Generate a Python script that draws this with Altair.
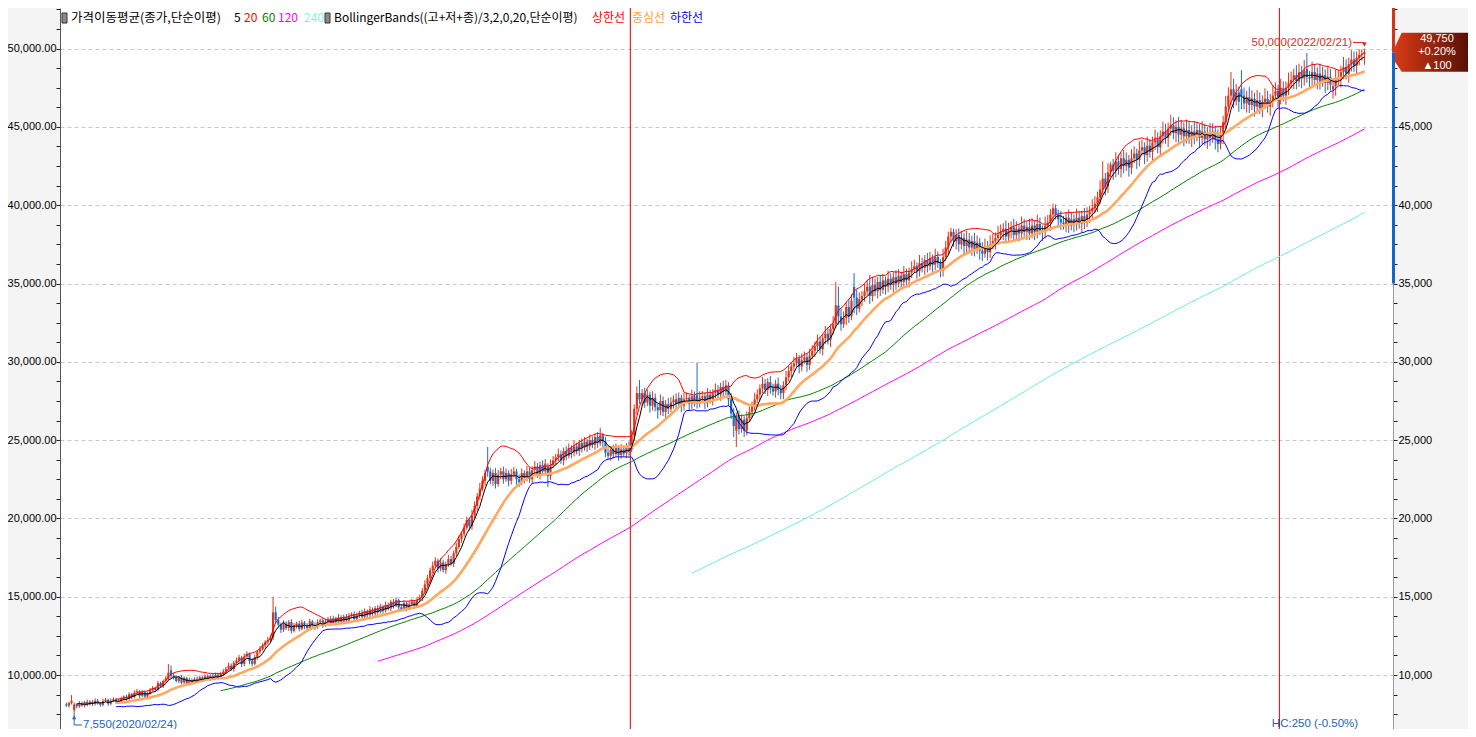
import altair as alt
import pandas as pd

# ---------------- data (prices in units of 10 won) ----------------
opens = [
812, 805, 822, 775, 812, 800, 820, 806, 828, 812,
830, 815, 836, 820, 810, 834, 842, 818, 835, 845,
832, 828, 850, 862, 848, 878, 860, 888, 896, 868,
890, 862, 884, 902, 918, 905, 948, 930, 962, 975,
1030, 995, 985, 962, 985, 952, 980, 948, 968, 955,
975, 968, 985, 970, 992, 975, 995, 978, 1002, 985,
1005, 1022, 1040, 1060, 1038, 1078, 1092, 1112, 1070, 1118,
1135, 1088, 1072, 1115, 1148, 1165, 1188, 1210, 1222, 1240,
1400, 1350, 1322, 1290, 1328, 1300, 1338, 1282, 1315, 1328,
1295, 1335, 1312, 1300, 1342, 1318, 1305, 1338, 1348, 1318,
1342, 1358, 1332, 1362, 1338, 1368, 1342, 1372, 1348, 1378,
1388, 1358, 1382, 1398, 1372, 1408, 1382, 1418, 1392, 1428,
1402, 1438, 1412, 1448, 1425, 1468, 1442, 1478, 1432, 1422,
1458, 1428, 1452, 1468, 1442, 1478, 1495, 1538, 1578, 1618,
1668, 1698, 1730, 1680, 1718, 1670, 1708, 1740, 1712, 1778,
1818, 1868, 1900, 1940, 1990, 1950, 2020, 2080, 2140, 2190,
2240, 2330, 2300, 2240, 2290, 2220, 2280, 2300, 2250, 2290,
2240, 2280, 2300, 2250, 2230, 2290, 2260, 2300, 2250, 2310,
2330, 2280, 2340, 2300, 2330, 2270, 2340, 2370, 2390, 2410,
2370, 2430, 2400, 2450, 2420, 2460, 2430, 2480, 2450, 2490,
2460, 2500, 2470, 2520, 2480, 2530, 2490, 2420, 2400, 2440,
2410, 2450, 2405, 2440, 2415, 2460, 2440, 2530, 2700, 2800,
2760, 2800, 2740, 2790, 2720, 2770, 2710, 2690, 2750, 2680,
2730, 2700, 2740, 2760, 2730, 2770, 2720, 2760, 2770, 2730,
2780, 2790, 2740, 2770, 2780, 2740, 2790, 2760, 2800, 2820,
2790, 2840, 2810, 2850, 2760, 2670, 2560, 2650, 2570, 2630,
2560, 2640, 2680, 2720, 2760, 2790, 2830, 2860, 2820, 2870,
2830, 2810, 2860, 2820, 2800, 2850, 2900, 2940, 2970, 2990,
3020, 2970, 3010, 3030, 2980, 3040, 3070, 3100, 3130, 3080,
3150, 3180, 3140, 3210, 3240, 3360, 3290, 3240, 3280, 3350,
3290, 3480, 3410, 3340, 3400, 3420, 3450, 3480, 3420, 3490,
3450, 3510, 3460, 3520, 3480, 3530, 3490, 3540, 3500, 3550,
3510, 3560, 3520, 3570, 3590, 3610, 3580, 3630, 3600, 3650,
3610, 3660, 3620, 3670, 3630, 3580, 3670, 3730, 3800, 3830,
3770, 3810, 3750, 3790, 3740, 3780, 3730, 3770, 3720, 3760,
3710, 3690, 3740, 3700, 3750, 3770, 3790, 3810, 3830, 3850,
3800, 3840, 3860, 3810, 3850, 3820, 3870, 3830, 3860, 3820,
3870, 3830, 3880, 3840, 3830, 3870, 3890, 3940, 3980, 3940,
3910, 3890, 3880, 3920, 3870, 3910, 3880, 3920, 3880, 3930,
3890, 3940, 3960, 3980, 4010, 4050, 4100, 4170, 4120, 4210,
4260, 4220, 4280, 4230, 4300, 4250, 4290, 4240, 4300, 4330,
4290, 4350, 4370, 4320, 4380, 4340, 4400, 4420, 4370, 4440,
4470, 4430, 4490, 4510, 4460, 4500, 4450, 4490, 4440, 4480,
4430, 4470, 4440, 4480, 4430, 4470, 4420, 4460, 4430, 4470,
4420, 4390, 4450, 4530, 4630, 4700, 4740, 4670, 4720, 4740,
4700, 4650, 4690, 4640, 4680, 4630, 4670, 4620, 4660, 4680,
4630, 4670, 4700, 4730, 4690, 4740, 4700, 4750, 4780, 4800,
4830, 4790, 4850, 4810, 4870, 4820, 4810, 4850, 4800, 4840,
4790, 4830, 4780, 4820, 4740, 4760, 4800, 4810, 4850, 4880,
4840, 4900, 4930, 4890, 4940, 4960, 4965,
]

highs = [
824, 829, 872, 824, 819, 835, 830, 835, 843, 840,
839, 851, 846, 829, 849, 854, 849, 850, 857, 852,
847, 862, 871, 875, 890, 885, 903, 911, 903, 905,
900, 893, 917, 930, 925, 963, 958, 971, 993, 1070,
1060, 1012, 996, 995, 999, 993, 988, 984, 979, 985,
990, 997, 993, 1007, 1003, 1004, 1009, 1015, 1010, 1021,
1038, 1052, 1080, 1074, 1090, 1112, 1128, 1122, 1138, 1151,
1144, 1107, 1130, 1160, 1185, 1204, 1222, 1244, 1258, 1500,
1437, 1370, 1334, 1350, 1343, 1351, 1356, 1332, 1341, 1346,
1352, 1345, 1330, 1359, 1352, 1336, 1355, 1361, 1366, 1359,
1371, 1376, 1379, 1372, 1389, 1382, 1385, 1390, 1395, 1401,
1406, 1399, 1411, 1416, 1425, 1418, 1439, 1432, 1441, 1446,
1455, 1448, 1469, 1462, 1481, 1486, 1495, 1488, 1450, 1475,
1468, 1473, 1485, 1478, 1499, 1513, 1555, 1605, 1640, 1685,
1725, 1752, 1743, 1745, 1736, 1725, 1767, 1760, 1795, 1845,
1890, 1917, 1967, 2012, 2005, 2056, 2109, 2162, 2226, 2269,
2312, 2456, 2324, 2312, 2321, 2309, 2322, 2331, 2319, 2307,
2316, 2329, 2317, 2281, 2319, 2307, 2336, 2324, 2332, 2366,
2354, 2362, 2371, 2379, 2352, 2376, 2399, 2412, 2446, 2434,
2452, 2461, 2479, 2467, 2496, 2484, 2502, 2511, 2519, 2507,
2536, 2524, 2542, 2551, 2579, 2547, 2521, 2444, 2462, 2471,
2479, 2467, 2476, 2464, 2482, 2491, 2564, 2728, 2844, 2884,
2826, 2836, 2824, 2810, 2812, 2798, 2733, 2792, 2778, 2756,
2769, 2774, 2786, 2799, 2804, 2790, 2802, 2804, 2790, 2822,
2811, 2995, 2812, 2814, 2803, 2832, 2821, 2826, 2862, 2851,
2866, 2879, 2884, 2870, 2799, 2704, 2676, 2689, 2664, 2653,
2682, 2714, 2746, 2802, 2824, 2856, 2902, 2891, 2896, 2909,
2861, 2886, 2899, 2851, 2876, 2942, 2974, 2996, 3032, 3056,
3043, 3054, 3066, 3053, 3084, 3106, 3128, 3174, 3161, 3178,
3230, 3220, 3240, 3292, 3510, 3480, 3340, 3322, 3382, 3402,
3432, 3567, 3462, 3442, 3452, 3502, 3522, 3554, 3542, 3532,
3542, 3555, 3562, 3545, 3582, 3565, 3572, 3585, 3592, 3575,
3612, 3595, 3602, 3642, 3652, 3635, 3682, 3665, 3682, 3695,
3702, 3685, 3722, 3705, 3655, 3722, 3772, 3832, 3855, 3850,
3846, 3852, 3837, 3821, 3838, 3822, 3806, 3823, 3807, 3791,
3763, 3787, 3771, 3808, 3817, 3826, 3868, 3877, 3886, 3903,
3887, 3896, 3913, 3897, 3881, 3928, 3912, 3896, 3913, 3917,
3901, 3938, 3922, 3871, 3928, 3937, 3976, 4010, 4005, 3971,
3963, 3932, 3956, 3973, 3957, 3941, 3978, 3962, 3966, 3983,
3987, 3996, 4038, 4057, 4086, 4158, 4280, 4206, 4268, 4275,
4296, 4338, 4322, 4336, 4353, 4337, 4321, 4358, 4377, 4361,
4408, 4417, 4401, 4438, 4422, 4438, 4484, 4466, 4478, 4534,
4521, 4528, 4577, 4561, 4541, 4564, 4544, 4528, 4547, 4531,
4511, 4534, 4534, 4518, 4537, 4521, 4501, 4524, 4524, 4508,
4484, 4504, 4571, 4697, 4754, 4850, 4807, 4774, 4758, 4863,
4751, 4731, 4754, 4734, 4718, 4737, 4721, 4701, 4747, 4731,
4711, 4767, 4784, 4768, 4807, 4791, 4791, 4847, 4854, 4871,
4894, 4904, 4888, 4927, 4972, 4858, 4917, 4901, 4881, 4904,
4884, 4868, 4887, 4871, 4801, 4867, 4864, 4891, 4947, 4931,
4941, 4990, 4981, 4981, 4995, 4995, 5000,
]

lows = [
796, 792, 812, 755, 787, 790, 797, 793, 800, 805,
802, 805, 811, 797, 800, 827, 803, 808, 828, 817,
816, 821, 837, 836, 841, 845, 850, 879, 853, 858,
853, 849, 874, 895, 890, 895, 921, 917, 952, 967,
979, 971, 952, 948, 939, 944, 932, 937, 947, 941,
956, 960, 955, 960, 966, 961, 966, 970, 970, 974,
996, 1005, 1027, 1027, 1021, 1064, 1082, 1051, 1056, 1108,
1068, 1056, 1062, 1098, 1133, 1155, 1170, 1195, 1211, 1222,
1332, 1308, 1268, 1275, 1287, 1282, 1265, 1272, 1296, 1278,
1285, 1292, 1283, 1290, 1297, 1288, 1295, 1320, 1301, 1308,
1324, 1315, 1322, 1317, 1324, 1329, 1324, 1331, 1338, 1360,
1341, 1348, 1364, 1355, 1362, 1361, 1368, 1379, 1374, 1385,
1392, 1391, 1398, 1412, 1407, 1425, 1432, 1411, 1405, 1412,
1407, 1414, 1442, 1421, 1428, 1466, 1473, 1520, 1565, 1595,
1650, 1685, 1655, 1662, 1655, 1647, 1690, 1697, 1690, 1760,
1805, 1845, 1882, 1927, 1923, 1928, 2003, 2049, 2116, 2173,
2209, 2266, 2218, 2209, 2191, 2203, 2249, 2221, 2233, 2204,
2216, 2263, 2214, 2201, 2213, 2224, 2236, 2228, 2219, 2286,
2258, 2249, 2271, 2283, 2200, 2246, 2323, 2339, 2366, 2348,
2339, 2371, 2383, 2384, 2396, 2408, 2399, 2421, 2433, 2424,
2436, 2448, 2439, 2451, 2463, 2454, 2391, 2378, 2369, 2381,
2393, 2369, 2381, 2393, 2384, 2401, 2423, 2496, 2664, 2732,
2721, 2706, 2717, 2676, 2689, 2684, 2636, 2659, 2654, 2641,
2666, 2677, 2701, 2696, 2707, 2678, 2689, 2737, 2688, 2699,
2714, 2701, 2709, 2747, 2698, 2709, 2734, 2721, 2769, 2764,
2751, 2776, 2787, 2718, 2636, 2520, 2456, 2536, 2547, 2520,
2529, 2617, 2641, 2689, 2737, 2751, 2799, 2794, 2781, 2796,
2784, 2771, 2786, 2760, 2761, 2819, 2877, 2901, 2939, 2967,
2926, 2939, 2987, 2936, 2949, 3017, 3031, 3069, 3052, 3041,
3115, 3110, 3095, 3175, 3215, 3238, 3198, 3215, 3235, 3248,
3265, 3310, 3298, 3315, 3355, 3385, 3425, 3370, 3385, 3418,
3405, 3420, 3435, 3430, 3445, 3460, 3445, 3460, 3475, 3460,
3475, 3490, 3475, 3535, 3565, 3530, 3545, 3570, 3555, 3570,
3585, 3570, 3585, 3600, 3540, 3545, 3645, 3685, 3760, 3735,
3717, 3703, 3719, 3682, 3698, 3694, 3677, 3673, 3689, 3652,
3643, 3664, 3647, 3663, 3719, 3717, 3748, 3779, 3777, 3758,
3769, 3787, 3768, 3779, 3767, 3778, 3799, 3777, 3778, 3789,
3777, 3788, 3809, 3772, 3788, 3839, 3837, 3898, 3909, 3857,
3843, 3844, 3827, 3823, 3839, 3827, 3838, 3849, 3827, 3848,
3859, 3887, 3918, 3949, 3957, 4008, 4069, 4062, 4078, 4179,
4162, 4178, 4194, 4177, 4203, 4219, 4182, 4198, 4269, 4232,
4248, 4319, 4262, 4278, 4304, 4281, 4354, 4332, 4311, 4394,
4392, 4371, 4444, 4422, 4401, 4399, 4417, 4376, 4394, 4392,
4371, 4389, 4407, 4366, 4384, 4382, 4361, 4379, 4397, 4356,
4339, 4357, 4391, 4484, 4597, 4641, 4619, 4637, 4596, 4614,
4612, 4591, 4589, 4607, 4566, 4584, 4582, 4561, 4614, 4592,
4571, 4624, 4667, 4626, 4644, 4662, 4641, 4704, 4747, 4741,
4739, 4757, 4746, 4764, 4782, 4746, 4764, 4762, 4741, 4739,
4757, 4716, 4734, 4732, 4681, 4699, 4767, 4751, 4804, 4802,
4781, 4854, 4852, 4831, 4894, 4922, 4896,
]

closes = [
805, 822, 835, 812, 800, 820, 806, 828, 812, 830,
815, 836, 820, 810, 834, 842, 818, 835, 845, 832,
828, 850, 862, 848, 878, 860, 888, 896, 868, 890,
862, 884, 902, 918, 905, 948, 930, 962, 978, 1015,
995, 985, 962, 985, 952, 980, 948, 968, 955, 975,
968, 985, 970, 992, 975, 995, 978, 1002, 985, 1005,
1022, 1040, 1060, 1038, 1078, 1092, 1112, 1070, 1118, 1135,
1088, 1072, 1115, 1148, 1165, 1188, 1210, 1222, 1240, 1400,
1350, 1322, 1290, 1328, 1300, 1338, 1282, 1315, 1328, 1295,
1335, 1312, 1300, 1342, 1318, 1305, 1338, 1348, 1318, 1342,
1358, 1332, 1362, 1338, 1368, 1342, 1372, 1348, 1378, 1388,
1358, 1382, 1398, 1372, 1408, 1382, 1418, 1392, 1428, 1402,
1438, 1412, 1448, 1425, 1468, 1442, 1478, 1432, 1422, 1458,
1428, 1452, 1468, 1442, 1478, 1495, 1538, 1578, 1618, 1668,
1698, 1730, 1680, 1718, 1670, 1708, 1740, 1712, 1778, 1818,
1868, 1900, 1940, 1990, 1950, 2020, 2080, 2140, 2190, 2240,
2290, 2300, 2240, 2290, 2220, 2280, 2300, 2250, 2290, 2240,
2280, 2300, 2250, 2230, 2290, 2260, 2300, 2250, 2310, 2330,
2280, 2340, 2300, 2350, 2270, 2340, 2370, 2390, 2410, 2370,
2430, 2400, 2450, 2420, 2460, 2430, 2480, 2450, 2490, 2460,
2500, 2470, 2520, 2480, 2530, 2490, 2420, 2400, 2440, 2410,
2450, 2405, 2440, 2415, 2460, 2430, 2530, 2700, 2800, 2760,
2800, 2740, 2790, 2720, 2770, 2710, 2690, 2750, 2680, 2730,
2700, 2740, 2760, 2730, 2770, 2720, 2760, 2770, 2730, 2780,
2740, 2740, 2770, 2780, 2740, 2790, 2760, 2800, 2820, 2790,
2840, 2810, 2850, 2760, 2670, 2590, 2650, 2570, 2630, 2560,
2640, 2680, 2720, 2760, 2790, 2830, 2860, 2820, 2870, 2830,
2810, 2860, 2820, 2800, 2850, 2900, 2940, 2970, 2990, 3020,
2970, 3010, 3030, 2980, 3040, 3070, 3100, 3130, 3080, 3150,
3180, 3140, 3210, 3240, 3360, 3290, 3240, 3280, 3350, 3290,
3390, 3410, 3340, 3400, 3420, 3450, 3480, 3420, 3490, 3450,
3510, 3460, 3520, 3480, 3530, 3490, 3540, 3500, 3550, 3510,
3560, 3520, 3570, 3590, 3610, 3580, 3630, 3600, 3650, 3610,
3660, 3620, 3670, 3630, 3580, 3670, 3730, 3800, 3830, 3770,
3810, 3750, 3790, 3740, 3780, 3730, 3770, 3720, 3760, 3710,
3690, 3740, 3700, 3750, 3770, 3790, 3810, 3830, 3850, 3800,
3840, 3860, 3810, 3850, 3820, 3870, 3830, 3860, 3820, 3870,
3830, 3880, 3840, 3830, 3870, 3890, 3940, 3980, 3940, 3910,
3890, 3880, 3920, 3870, 3910, 3880, 3920, 3880, 3930, 3890,
3940, 3960, 3980, 4010, 4050, 4100, 4170, 4120, 4210, 4260,
4220, 4280, 4230, 4300, 4250, 4290, 4240, 4300, 4330, 4290,
4350, 4370, 4320, 4380, 4340, 4400, 4420, 4370, 4440, 4470,
4430, 4490, 4510, 4460, 4500, 4450, 4490, 4440, 4480, 4430,
4470, 4440, 4480, 4430, 4470, 4420, 4460, 4430, 4470, 4420,
4390, 4450, 4530, 4630, 4700, 4740, 4670, 4720, 4660, 4700,
4650, 4690, 4640, 4680, 4630, 4670, 4620, 4660, 4680, 4630,
4670, 4700, 4730, 4690, 4740, 4700, 4750, 4780, 4800, 4830,
4790, 4850, 4810, 4860, 4820, 4810, 4850, 4800, 4840, 4790,
4830, 4780, 4820, 4770, 4760, 4800, 4810, 4850, 4880, 4840,
4900, 4930, 4890, 4940, 4960, 4965, 4975,
]

# bar index of the first trading day of each month (Mar 2020 .. Feb 2022, excluding January)
month_starts = [8, 30, 50, 69, 91, 114, 134, 155, 174, 195,
                236, 254, 276, 298, 317, 339, 361, 382, 401, 420, 442, 484]
year_starts = [216, 464]
y_ticks = list(range(7500, 52501, 1250))

last_close = 49750
change_pct = "+0.20%"
change_abs = "▲100"
range_low = 35000
low_idx, low_price, low_date = 3, 7550, "2020/02/24"
high_idx, high_price, high_date = 496, 50000, "2022/02/21"
hc_text = "HC:250 (-0.50%)"

# ---------------- frame ----------------
n = len(closes)
df = pd.DataFrame({
    "i": list(range(n)),
    "o": [v * 10 for v in opens],
    "h": [v * 10 for v in highs],
    "l": [v * 10 for v in lows],
    "c": [v * 10 for v in closes],
})
df["up"] = df["c"] >= df["o"]
df["tp"] = (df["h"] + df["l"] + df["c"]) / 3.0

W, H = 1333, 721
UP = "#D9381A"
DOWN = "#1F6CC6"
ANN_RED = "#D8301C"
ANN_BLUE = "#2163C0"
KFONT = "Noto Sans CJK KR"
NFONT = "Liberation Sans"

xs = alt.Scale(domain=[-0.5, 505.0], nice=False, zero=False)
ys = alt.Scale(domain=[6552, 52593], nice=False, zero=False)
X = alt.X("i:Q", scale=xs, axis=None)

x_axis = alt.Axis(values=[m - 0.5 for m in month_starts], grid=True, gridColor="#C8C8C8",
                  gridDash=[4, 3], gridWidth=1, labels=False, ticks=False, domain=False, title=None)
y_left = alt.Axis(orient="left", values=y_ticks, title=None,
                  labelExpr="datum.value % 5000 === 0 ? format(datum.value, ',.2f') : ''",
                  labelOverlap=False, labelFont=NFONT, labelFontSize=11, labelColor="#000",
                  labelPadding=0, tickSize=4, tickColor="#222", domainColor="#555",
                  grid=True, gridColor="#C8C8C8", gridDash=[4, 3],
                  gridOpacity={"condition": {"test": "datum.value % 5000 === 0", "value": 1}, "value": 0})
# the 50,000 label on the right is hidden behind the current-price box in the reference
y_right = alt.Axis(orient="right", values=y_ticks, title=None,
                   labelExpr="datum.value % 5000 === 0 && datum.value < 50000 ? format(datum.value, ',d') : ''",
                   labelOverlap=False, labelFont=NFONT, labelFontSize=11, labelColor="#000",
                   labelPadding=1, tickSize=4, tickColor="#222", domainColor="#999", grid=False)

base = alt.Chart(df)
candle_color = alt.condition("datum.up", alt.value(UP), alt.value(DOWN))

wicks = base.mark_rule(strokeWidth=1).encode(
    x=alt.X("i:Q", scale=xs, axis=x_axis),
    y=alt.Y("l:Q", scale=ys, axis=y_left), y2="h:Q", color=candle_color)
bodies = base.mark_bar(size=2.2).encode(
    x=X, y=alt.Y("o:Q", scale=ys, axis=y_right), y2="c:Q", color=candle_color)


def ma_line(period, color, width=1.0):
    return base.transform_window(
        window=[{"op": "mean", "field": "c", "as": "v"}, {"op": "count", "as": "k"}],
        frame=[-(period - 1), 0], sort=[{"field": "i"}]
    ).transform_filter(f"datum.k >= {period}").mark_line(
        color=color, strokeWidth=width).encode(x=X, y=alt.Y("v:Q", scale=ys, axis=None))


bb = base.transform_window(
    window=[{"op": "mean", "field": "tp", "as": "m"},
            {"op": "stdevp", "field": "tp", "as": "s"},
            {"op": "count", "as": "k"}],
    frame=[-19, 0], sort=[{"field": "i"}]
).transform_filter("datum.k >= 20").transform_calculate(
    ub="datum.m + 2 * datum.s", lb="datum.m - 2 * datum.s")
bb_up = bb.mark_line(color="#FF0000", strokeWidth=1).encode(x=X, y=alt.Y("ub:Q", scale=ys, axis=None))
bb_mid = bb.mark_line(color="#FFAA62", strokeWidth=2.6).encode(x=X, y=alt.Y("m:Q", scale=ys, axis=None))
bb_lo = bb.mark_line(color="#0000FF", strokeWidth=1).encode(x=X, y=alt.Y("lb:Q", scale=ys, axis=None))

ma5 = ma_line(5, "#000000")
ma20 = ma_line(20, "#FF0000")
ma60 = ma_line(60, "#008000")
ma120 = ma_line(120, "#FF00FF")
ma240 = ma_line(240, "#66EEDA")

years_df = pd.DataFrame({"x": [v - 0.5 for v in year_starts]})
year_rules = alt.Chart(years_df).mark_rule(color="#E00000", strokeWidth=1).encode(
    x=alt.X("x:Q", scale=xs, axis=None), y=alt.value(0), y2=alt.value(H))

# right-hand price range bar
rng = pd.DataFrame({"p": [last_close], "lo": [range_low]})
red_bar = alt.Chart(rng).mark_rule(color="#D2331A", strokeWidth=3).encode(
    x=alt.value(W + 0.5), y=alt.Y("p:Q", scale=ys, axis=None), y2=alt.value(0))
blue_bar = alt.Chart(rng).mark_rule(color="#1466C8", strokeWidth=3).encode(
    x=alt.value(W + 0.5), y=alt.Y("p:Q", scale=ys, axis=None), y2="lo:Q")

one = pd.DataFrame({"a": [0]})


def label(text, x, y, color="#000", size=12, font=KFONT, align="left", baseline="middle"):
    return alt.Chart(one).mark_text(text=text, color=color, fontSize=size, font=font,
                                    align=align, baseline=baseline).encode(
        x=alt.value(x), y=alt.value(y))


# price box
BOX = "M -0.835 -0.481 L 1 -0.481 L 1 0.481 L -0.835 0.481 L -1 0.235 L -1 -0.136 Z"
grad = alt.LinearGradient(gradient="linear", x1=0, x2=1, y1=0, y2=0,
                          stops=[alt.GradientStop(offset=0, color="#D63A16"),
                                 alt.GradientStop(offset=1, color="#4A0C04")])
price_box = alt.Chart(one).mark_point(shape=BOX, size=6561, filled=True, fill=grad,
                                      strokeWidth=0, opacity=1).encode(
    x=alt.value(1375.5), y=alt.value(44.2))
box_texts = [
    label(f"{last_close:,}", 1377, 31, color="white", size=11, font=NFONT, align="center"),
    label(change_pct, 1377, 44.3, color="white", size=11, font=NFONT, align="center"),
    label(change_abs, 1377, 57.6, color="white", size=11, font=NFONT, align="center"),
]

# high annotation
hi_df = pd.DataFrame({"i": [high_idx], "p": [high_price]})
hi_text = label(f"{high_price:,}({high_date})", 1292, 34.5, color=ANN_RED, size=11.5,
                font=NFONT, align="right")
hi_line = alt.Chart(hi_df).mark_rule(color=ANN_RED, strokeWidth=1).encode(
    x=alt.X("i:Q", scale=xs, axis=None), x2=alt.value(1293), y=alt.value(34.5))
hi_arrow = alt.Chart(hi_df).mark_point(shape="triangle-down", size=22, filled=True,
                                       color=ANN_RED, opacity=1, yOffset=-4).encode(
    x=alt.X("i:Q", scale=xs, axis=None), y=alt.Y("p:Q", scale=ys, axis=None))

# low annotation
lo_df = pd.DataFrame({"i": [low_idx], "p": [low_price]})
lo_vert = alt.Chart(lo_df).mark_rule(color=ANN_BLUE, strokeWidth=1).encode(
    x=alt.X("i:Q", scale=xs, axis=None), y=alt.Y("p:Q", scale=ys, axis=None), y2=alt.value(717))
lo_horiz = alt.Chart(lo_df).mark_rule(color=ANN_BLUE, strokeWidth=1).encode(
    x=alt.X("i:Q", scale=xs, axis=None), x2=alt.value(22), y=alt.value(717))
lo_arrow = alt.Chart(lo_df).mark_point(shape="triangle-up", size=18, filled=True,
                                       color=ANN_BLUE, opacity=1, yOffset=4).encode(
    x=alt.X("i:Q", scale=xs, axis=None), y=alt.Y("p:Q", scale=ys, axis=None))
lo_text = label(f"{low_price:,}({low_date})", 23, 716.5, color=ANN_BLUE, size=11.5, font=NFONT)

hc = label(hc_text, 1255, 716, color=ANN_BLUE, size=11.5, font=NFONT, align="center")


# legend (top-left)
def icon(x):
    return alt.Chart(one).mark_rect(fill="#8A8A8A", stroke="#333333", strokeWidth=1).encode(
        x=alt.value(x), x2=alt.value(x + 5), y=alt.value(5), y2=alt.value(15))


LY = 10
legend = [
    icon(2),
    label("가격이동평균(종가,단순이평)", 11, LY, size=12.5),
    label("5", 174, LY),
    label("20", 184, LY, color="#FF0000"),
    label("60", 202, LY, color="#008000"),
    label("120", 218, LY, color="#FF00FF"),
    label("240", 244, LY, color="#7FF5D6"),
    icon(265),
    label("BollingerBands((고+저+종)/3,2,0,20,단순이평)", 274, LY),
    label("상한선", 532, LY, color="#FF0000"),
    label("중심선", 572, LY, color="#FFA040"),
    label("하한선", 610, LY, color="#0000FF"),
]

chart = alt.layer(
    wicks, bodies, year_rules,
    ma240, ma120, ma60, bb_lo, bb_up, ma20, bb_mid, ma5,
    red_bar, blue_bar, price_box, *box_texts,
    hi_line, hi_arrow, hi_text, lo_vert, lo_horiz, lo_arrow, lo_text, hc,
    *legend,
).resolve_axis(y="independent").properties(
    width=W, height=H,
    padding={"left": 52, "top": 0, "right": 75, "bottom": 0},
    autosize=alt.AutoSizeParams(type="none"),
    background="#F4F4F4",
).configure_view(stroke=None, fill="white")

chart.save("out.html", embed_options={"renderer": "svg", "actions": False})
